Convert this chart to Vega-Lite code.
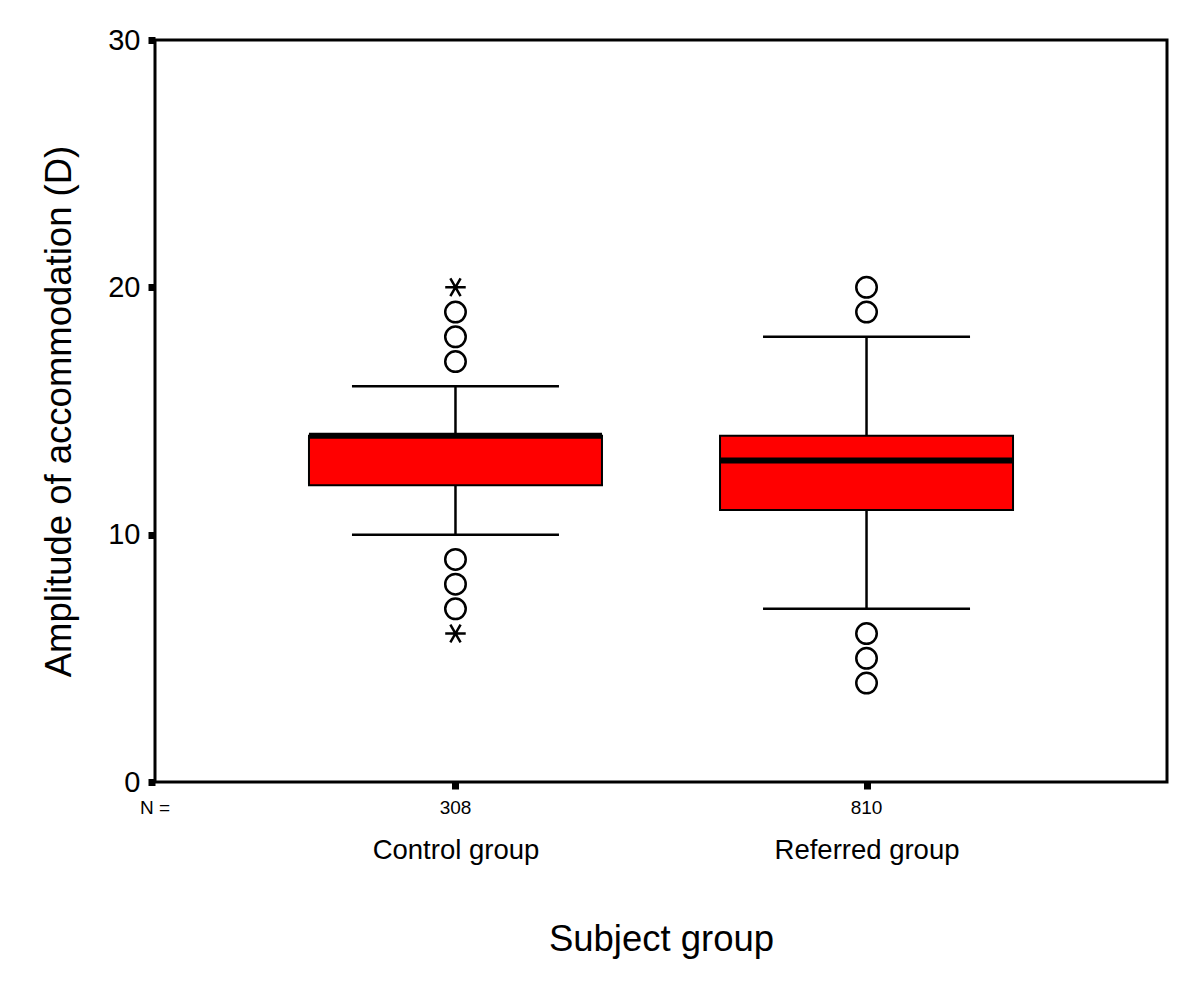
{
  "$schema": "https://vega.github.io/schema/vega-lite/v6.json",
  "autosize": {"type": "none"},
  "width": 1012,
  "height": 742,
  "padding": {"left": 155, "top": 40, "right": 33, "bottom": 214},
  "background": "white",
  "config": {
    "font": "Liberation Sans",
    "view": {"stroke": "black", "strokeWidth": 3},
    "axis": {"labelColor": "black", "titleColor": "black", "titleFontWeight": "normal", "grid": false, "domain": false, "tickColor": "black", "labelLimit": 400}
  },
  "datasets": {
    "stats": [
      {"group": "Control group", "n": "308", "lo": 10, "q1": 12, "median": 14, "q3": 14, "hi": 16},
      {"group": "Referred group", "n": "810", "lo": 7, "q1": 11, "median": 13, "q3": 14, "hi": 18}
    ],
    "outliers": [
      {"group": "Control group", "value": 20, "kind": "extreme"},
      {"group": "Control group", "value": 19, "kind": "outlier"},
      {"group": "Control group", "value": 18, "kind": "outlier"},
      {"group": "Control group", "value": 17, "kind": "outlier"},
      {"group": "Control group", "value": 9, "kind": "outlier"},
      {"group": "Control group", "value": 8, "kind": "outlier"},
      {"group": "Control group", "value": 7, "kind": "outlier"},
      {"group": "Control group", "value": 6, "kind": "extreme"},
      {"group": "Referred group", "value": 20, "kind": "outlier"},
      {"group": "Referred group", "value": 19, "kind": "outlier"},
      {"group": "Referred group", "value": 6, "kind": "outlier"},
      {"group": "Referred group", "value": 5, "kind": "outlier"},
      {"group": "Referred group", "value": 4, "kind": "outlier"}
    ],
    "nlabel": [{"label": "N ="}]
  },
  "encoding": {
    "x": {
      "field": "group", "type": "nominal",
      "scale": {"type": "point", "padding": 0.731, "domain": ["Control group", "Referred group"]},
      "axis": {"title": "Subject group", "labelAngle": 0, "labelFontSize": 27.5, "titleFontSize": 36.5, "tickSize": 7, "tickWidth": 7, "labelPadding": 47, "titlePadding": 58, "labelLimit": 400}
    }
  },
  "layer": [
    {
      "data": {"name": "stats"},
      "mark": {"type": "rule", "color": "black", "strokeWidth": 2.5},
      "encoding": {
        "y": {"field": "lo", "type": "quantitative", "scale": {"domain": [0, 30], "nice": false, "zero": false},
          "axis": {"title": "Amplitude of accommodation (D)", "values": [0, 10, 20, 30], "labelFontSize": 29, "titleFontSize": 36.5, "tickSize": 7, "tickWidth": 7, "labelPadding": 8, "titlePadding": 29}},
        "y2": {"field": "hi"}
      }
    },
    {
      "data": {"name": "stats"},
      "mark": {"type": "tick", "color": "black", "size": 207, "thickness": 2.5, "orient": "horizontal", "opacity": 1},
      "encoding": {"y": {"field": "lo", "type": "quantitative"}}
    },
    {
      "data": {"name": "stats"},
      "mark": {"type": "tick", "color": "black", "size": 207, "thickness": 2.5, "orient": "horizontal", "opacity": 1},
      "encoding": {"y": {"field": "hi", "type": "quantitative"}}
    },
    {
      "data": {"name": "stats"},
      "mark": {"type": "bar", "width": 293, "fill": "#ff0000", "stroke": "black", "strokeWidth": 2, "opacity": 1},
      "encoding": {
        "y": {"field": "q1", "type": "quantitative"},
        "y2": {"field": "q3"}
      }
    },
    {
      "data": {"name": "stats"},
      "mark": {"type": "tick", "color": "black", "size": 293, "thickness": 6, "orient": "horizontal", "opacity": 1},
      "encoding": {"y": {"field": "median", "type": "quantitative"}}
    },
    {
      "data": {"name": "outliers"},
      "mark": {"type": "point", "filled": false, "stroke": "black", "strokeWidth": 2.5, "size": 420, "opacity": 1},
      "encoding": {
        "y": {"field": "value", "type": "quantitative"},
        "shape": {"field": "kind", "type": "nominal", "legend": null,
          "scale": {"domain": ["outlier", "extreme"], "range": ["circle", "M-1,0L1,0M-0.5,-0.866L0.5,0.866M-0.5,0.866L0.5,-0.866"]}}
      }
    },
    {
      "data": {"name": "stats"},
      "mark": {"type": "text", "fontSize": 19, "baseline": "top", "dy": 17, "color": "black"},
      "encoding": {
        "y": {"datum": 0, "type": "quantitative"},
        "text": {"field": "n"}
      }
    },
    {
      "data": {"name": "nlabel"},
      "mark": {"type": "text", "fontSize": 19, "baseline": "top", "dy": 17, "color": "black", "align": "center"},
      "encoding": {
        "x": {"value": 0},
        "y": {"datum": 0, "type": "quantitative"},
        "text": {"field": "label"}
      }
    }
  ]
}
